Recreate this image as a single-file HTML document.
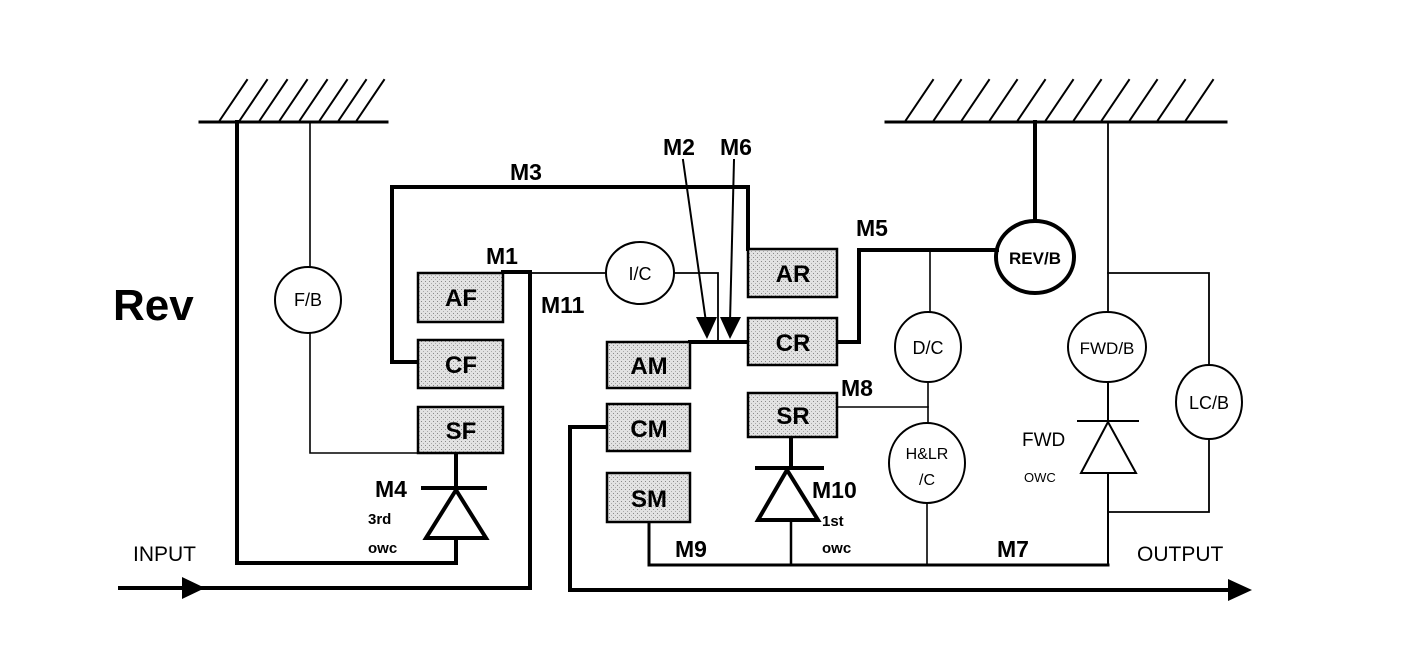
<!DOCTYPE html>
<html><head><meta charset="utf-8"><style>
html,body{margin:0;padding:0;background:#fff;}
svg{display:block;}
text{font-family:"Liberation Sans",Arial,sans-serif;fill:#000;}
.b{font-weight:bold;}
</style></head><body>
<svg width="1408" height="650" viewBox="0 0 1408 650" xmlns="http://www.w3.org/2000/svg">
<defs>
<pattern id="st" width="4" height="4" patternUnits="userSpaceOnUse">
<rect width="4" height="4" fill="#e2e2e2"/><rect x="1" y="1" width="1" height="1" fill="#888"/><rect x="3" y="3" width="1" height="1" fill="#aaa"/>
</pattern>
</defs>
<g stroke="#000" fill="none" stroke-linecap="square">
<!-- left ground -->
<line x1="200" y1="122" x2="387" y2="122" stroke-width="3"/>
<g stroke-width="2">
<line x1="220" y1="120" x2="247" y2="80"/><line x1="240" y1="120" x2="267" y2="80"/>
<line x1="260" y1="120" x2="287" y2="80"/><line x1="280" y1="120" x2="307" y2="80"/>
<line x1="300" y1="120" x2="327" y2="80"/><line x1="320" y1="120" x2="347" y2="80"/>
<line x1="339" y1="120" x2="366" y2="80"/><line x1="357" y1="120" x2="384" y2="80"/>
</g>
<!-- right ground -->
<line x1="886" y1="122" x2="1226" y2="122" stroke-width="3"/>
<g stroke-width="2">
<line x1="906" y1="120" x2="933" y2="80"/><line x1="934" y1="120" x2="961" y2="80"/>
<line x1="962" y1="120" x2="989" y2="80"/><line x1="990" y1="120" x2="1017" y2="80"/>
<line x1="1018" y1="120" x2="1045" y2="80"/><line x1="1046" y1="120" x2="1073" y2="80"/>
<line x1="1074" y1="120" x2="1101" y2="80"/><line x1="1102" y1="120" x2="1129" y2="80"/>
<line x1="1130" y1="120" x2="1157" y2="80"/><line x1="1158" y1="120" x2="1185" y2="80"/>
<line x1="1186" y1="120" x2="1213" y2="80"/>
</g>
<!-- thick left loop -->
<polyline points="237,122 237,563 456,563 456,538" stroke-width="4"/>
<!-- F/B -->
<line x1="310" y1="122" x2="310" y2="267" stroke-width="1.6"/>
<polyline points="310,333 310,453 418,453" stroke-width="1.6"/>
<ellipse cx="308" cy="300" rx="33" ry="33" stroke-width="2"/>
<!-- M3 -->
<polyline points="418,362 392,362 392,187 748,187 748,249" stroke-width="4"/>
<!-- M1 -->
<polyline points="503,272 530,272 530,588 120,588" stroke-width="4"/>
<polygon points="182,577 205,588 182,599" fill="#000" stroke="none"/>
<!-- M11 / I/C -->
<line x1="530" y1="273" x2="606" y2="273" stroke-width="1.8"/>
<polyline points="675,273 718,273 718,340" stroke-width="1.8"/>
<ellipse cx="640" cy="273" rx="34" ry="31" stroke-width="2"/>
<!-- M4 diode -->
<line x1="456" y1="453" x2="456" y2="488" stroke-width="4"/>
<line x1="423" y1="488" x2="485" y2="488" stroke-width="4"/>
<polygon points="456,490 426,538 486,538" stroke-width="4" stroke-linejoin="miter"/>
<!-- AM/CR line -->
<line x1="690" y1="342" x2="748" y2="342" stroke-width="4"/>
<!-- M2, M6 arrows -->
<line x1="683" y1="160" x2="706" y2="322" stroke-width="2"/>
<line x1="734" y1="160" x2="730" y2="322" stroke-width="2"/>
<polygon points="696,317 717,317 707,339" fill="#000" stroke="none"/>
<polygon points="720,317 741,317 730,339" fill="#000" stroke="none"/>
<!-- M5 -->
<polyline points="837,342 859,342 859,250 997,250" stroke-width="4"/>
<!-- REV/B -->
<line x1="1035" y1="122" x2="1035" y2="220" stroke-width="4"/>
<ellipse cx="1035" cy="257" rx="39" ry="36" stroke-width="4"/>
<!-- D/C and H&LR -->
<line x1="930" y1="250" x2="930" y2="312" stroke-width="1.6"/>
<ellipse cx="928" cy="347" rx="33" ry="35" stroke-width="2"/>
<line x1="928" y1="382" x2="928" y2="423" stroke-width="1.6"/>
<line x1="837" y1="407" x2="928" y2="407" stroke-width="1.6"/>
<ellipse cx="927" cy="463" rx="38" ry="40" stroke-width="2"/>
<line x1="927" y1="503" x2="927" y2="563" stroke-width="1.6"/>
<!-- M10 diode -->
<line x1="791" y1="437" x2="791" y2="468" stroke-width="4"/>
<line x1="757" y1="468" x2="822" y2="468" stroke-width="4"/>
<polygon points="787,470 758,520 818,520" stroke-width="4"/>
<line x1="791" y1="522" x2="791" y2="563" stroke-width="2.5"/>
<!-- M9 / M7 -->
<polyline points="649,522 649,565 1108,565" stroke-width="3"/>
<!-- CM output -->
<polyline points="607,427 570,427 570,590 1230,590" stroke-width="4"/>
<polygon points="1228,579 1252,590 1228,601" fill="#000" stroke="none"/>
<!-- FWD branch -->
<line x1="1108" y1="122" x2="1108" y2="312" stroke-width="1.8"/>
<ellipse cx="1107" cy="347" rx="39" ry="35" stroke-width="2"/>
<line x1="1108" y1="382" x2="1108" y2="421" stroke-width="2"/>
<line x1="1078" y1="421" x2="1138" y2="421" stroke-width="2"/>
<polygon points="1108,422 1081,473 1136,473" stroke-width="2"/>
<line x1="1108" y1="473" x2="1108" y2="565" stroke-width="2"/>
<polyline points="1108,273 1209,273 1209,365" stroke-width="1.8"/>
<ellipse cx="1209" cy="402" rx="33" ry="37" stroke-width="2"/>
<polyline points="1209,439 1209,512 1108,512" stroke-width="1.8"/>
</g>
<!-- boxes -->
<g fill="url(#st)" stroke="#000" stroke-width="2.5">
<rect x="418" y="273" width="85" height="49"/>
<rect x="418" y="340" width="85" height="48"/>
<rect x="418" y="407" width="85" height="46"/>
<rect x="748" y="249" width="89" height="48"/>
<rect x="748" y="318" width="89" height="47"/>
<rect x="748" y="393" width="89" height="44"/>
<rect x="607" y="342" width="83" height="46"/>
<rect x="607" y="404" width="83" height="47"/>
<rect x="607" y="473" width="83" height="49"/>
</g>
<g class="b" font-size="24" text-anchor="middle">
<text x="461" y="306">AF</text>
<text x="461" y="373">CF</text>
<text x="461" y="439">SF</text>
<text x="793" y="282">AR</text>
<text x="793" y="351">CR</text>
<text x="793" y="424">SR</text>
<text x="649" y="374">AM</text>
<text x="649" y="437">CM</text>
<text x="649" y="507">SM</text>
</g>
<g font-size="18" text-anchor="middle">
<text x="308" y="306">F/B</text>
<text x="640" y="280">I/C</text>
<text x="928" y="354">D/C</text>
<text x="927" y="459" font-size="16">H&amp;LR</text>
<text x="927" y="485" font-size="16">/C</text>
<text x="1107" y="354" font-size="17">FWD/B</text>
<text x="1209" y="409">LC/B</text>
<text x="1035" y="264" font-size="17" class="b">REV/B</text>
</g>
<g class="b" font-size="23">
<text x="113" y="320" font-size="44">Rev</text>
<text x="510" y="180">M3</text>
<text x="486" y="264">M1</text>
<text x="541" y="313">M11</text>
<text x="663" y="155">M2</text>
<text x="720" y="155">M6</text>
<text x="856" y="236">M5</text>
<text x="841" y="396">M8</text>
<text x="375" y="497">M4</text>
<text x="812" y="498">M10</text>
<text x="675" y="557">M9</text>
<text x="997" y="557">M7</text>
<text x="368" y="524" font-size="15">3rd</text>
<text x="368" y="553" font-size="15">owc</text>
<text x="822" y="526" font-size="15">1st</text>
<text x="822" y="553" font-size="15">owc</text>
</g>
<text x="133" y="561" font-size="21">INPUT</text>
<text x="1137" y="561" font-size="21">OUTPUT</text>
<text x="1022" y="446" font-size="19">FWD</text>
<text x="1024" y="482" font-size="13">OWC</text>
</svg>
</body></html>
